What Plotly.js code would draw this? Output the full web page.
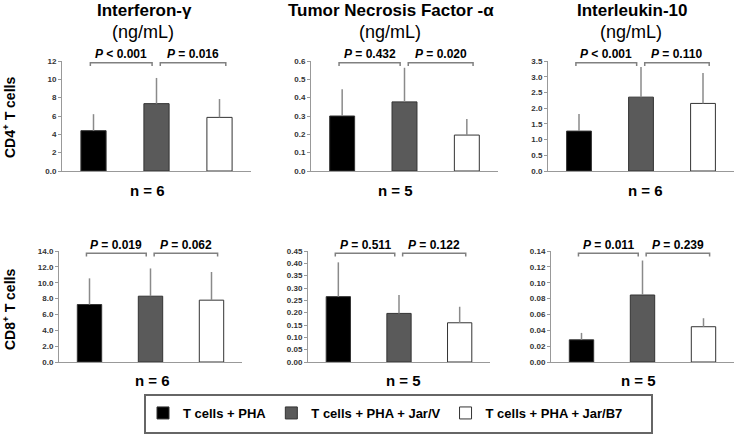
<!DOCTYPE html>
<html>
<head>
<meta charset="utf-8">
<script src="https://cdn.plot.ly/plotly-3.0.1.min.js"></script>
<style>
  html, body { margin: 0; padding: 0; background: #fff; }
  #chart { width: 735px; height: 434px; }
</style>
</head>
<body>
<div id="chart"></div>
<script>
// ---- data ----
const groups = ['T cells + PHA', 'T cells + PHA + Jar/V', 'T cells + PHA + Jar/B7'];
const cytokines = ['Interferon-γ', 'Tumor Necrosis Factor -α', 'Interleukin-10'];
const cellTypes = ['CD4<sup>+</sup> T cells', 'CD8<sup>+</sup> T cells'];

// panel order: CD4 (IFN, TNF, IL-10), then CD8 (IFN, TNF, IL-10)
const means = [
  [4.4, 7.35, 5.85],
  [0.30, 0.377, 0.196],
  [1.27, 2.35, 2.15],
  [7.25, 8.3, 7.8],
  [0.265, 0.197, 0.159],
  [0.028, 0.0845, 0.0445]
];
const sds = [
  [1.8, 2.8, 2.0],
  [0.146, 0.186, 0.088],
  [0.54, 0.96, 0.97],
  [3.3, 3.5, 3.55],
  [0.139, 0.075, 0.065],
  [0.0087, 0.0435, 0.0107]
];
const pValues = [
  ['P < 0.001', 'P = 0.016'],
  ['P = 0.432', 'P = 0.020'],
  ['P < 0.001', 'P = 0.110'],
  ['P = 0.019', 'P = 0.062'],
  ['P = 0.511', 'P = 0.122'],
  ['P = 0.011', 'P = 0.239']
];
const nValues = [6, 5, 6, 6, 5, 5];
const tickLabels = [
  ['0.0', '2', '4', '6', '8', '10', '12'],
  ['0.0', '0.1', '0.2', '0.3', '0.4', '0.5', '0.6'],
  ['0.0', '0.5', '1.0', '1.5', '2.0', '2.5', '3.0', '3.5'],
  ['0.0', '2.0', '4.0', '6.0', '8.0', '10.0', '12.0', '14.0'],
  ['0.00', '0.05', '0.10', '0.15', '0.20', '0.25', '0.30', '0.35', '0.40', '0.45'],
  ['0.00', '0.02', '0.04', '0.06', '0.08', '0.10', '0.12', '0.14']
];

// ---- geometry (pixels in a 735x434 page) ----
const W = 735, H = 434;
const px = x => x / W;
const py = y => 1 - y / H;
const xDom = [[62, 251], [311, 498], [548, 734], [59, 242], [308, 490], [551, 734]];
const yDom = [[61, 171], [251, 362]];
const colTitleX = [144, 391, 632];
const nLabelX = [147, 395, 645, 152, 403, 638];
const nLabelY = [191, 380];
const pLabelY = [54, 245];
const barColors = ['#000000', '#5a5a5a', '#ffffff'];
const brackets = [[-0.05, 0.93], [1.06, 2.1]];

const fam = 'Arial, Liberation Sans, sans-serif';
const traces = [];
const layout = {
  width: W, height: H,
  margin: { l: 0, r: 0, t: 0, b: 0 },
  paper_bgcolor: '#fff', plot_bgcolor: '#fff',
  barmode: 'overlay',
  showlegend: true,
  legend: {
    orientation: 'h', x: px(143), y: py(398), xanchor: 'left', yanchor: 'top',
    font: { family: fam, size: 13, weight: 'bold', color: '#000' },
    bgcolor: 'rgba(0,0,0,0)', borderwidth: 0, traceorder: 'normal'
  },
  shapes: [],
  annotations: []
};

function label(x, y, text, size, extra) {
  return Object.assign({
    xref: 'paper', yref: 'paper', x: px(x), y: py(y),
    xanchor: 'center', yanchor: 'middle',
    text: text, showarrow: false,
    font: { family: fam, size: size, color: '#000' }
  }, extra || {});
}

means.forEach((vals, p) => {
  const s = p === 0 ? '' : String(p + 1);
  const row = p < 3 ? 0 : 1;
  groups.forEach((g, i) => {
    traces.push({
      type: 'bar',
      name: g,
      x: [i], y: [vals[i]],
      width: 0.4,
      xaxis: 'x' + s, yaxis: 'y' + s,
      legendgroup: g,
      showlegend: p === 0,
      marker: { color: barColors[i], line: { color: '#333', width: 1 } },
      error_y: {
        type: 'data', symmetric: false, array: [sds[p][i]], arrayminus: [0],
        color: '#8a8a8a', thickness: 1.5, width: 0
      },
      hoverinfo: 'skip'
    });
  });

  const ticks = tickLabels[p];
  layout['xaxis' + s] = {
    domain: [px(xDom[p][0]), px(xDom[p][1])],
    anchor: 'y' + s, range: [-0.5, 2.5],
    showticklabels: false, showgrid: false, zeroline: false,
    showline: true, linecolor: '#999', linewidth: 1, ticks: '', fixedrange: true
  };
  layout['yaxis' + s] = {
    domain: [py(yDom[row][1]), py(yDom[row][0])],
    anchor: 'x' + s,
    range: [0, parseFloat(ticks[ticks.length - 1])],
    tickvals: ticks.map(Number), ticktext: ticks,
    tickfont: { family: fam, size: 8, weight: 'bold', color: '#333' },
    showgrid: false, zeroline: false,
    showline: true, linecolor: '#999', linewidth: 1,
    ticks: 'outside', ticklen: 3, tickcolor: '#999', fixedrange: true
  };

  // significance brackets and P values
  const yTop = row === 0 ? 0.985 : 0.98;
  const yEnd = yTop - 0.03;
  const pY = (yDom[row][1] - pLabelY[row]) / (yDom[row][1] - yDom[row][0]);
  brackets.forEach((b, k) => {
    layout.shapes.push({
      type: 'path', xref: 'x' + s, yref: 'y' + s + ' domain',
      path: `M ${b[0]},${yEnd} L ${b[0]},${yTop} L ${b[1]},${yTop} L ${b[1]},${yEnd}`,
      line: { color: '#808080', width: 1.5 }
    });
    const txt = pValues[p][k].replace(/^P/, '<i>P</i>');
    layout.annotations.push({
      xref: 'x' + s, yref: 'y' + s + ' domain',
      x: (b[0] + b[1]) / 2, y: pY, xanchor: 'center', yanchor: 'middle',
      text: '<b>' + txt + '</b>', showarrow: false,
      font: { family: fam, size: 12, color: '#000' }
    });
  });

  // n labels
  layout.annotations.push(label(nLabelX[p], nLabelY[row], '<b>n = ' + nValues[p] + '</b>', 15));
});

// column titles
cytokines.forEach((c, i) => {
  layout.annotations.push(label(colTitleX[i], 11, '<b>' + c + '</b>', 17));
  layout.annotations.push(label(colTitleX[i] - 1, 32, '(ng/mL)', 18));
});

// row labels
cellTypes.forEach((c, r) => {
  layout.annotations.push(label(9, r === 0 ? 118 : 310, '<b>' + c + '</b>', 14, { textangle: -90 }));
});

// legend frame
layout.shapes.push({
  type: 'rect', xref: 'paper', yref: 'paper',
  x0: px(145), x1: px(652), y0: py(433), y1: py(395),
  line: { color: '#666', width: 2 }, fillcolor: 'rgba(0,0,0,0)'
});

Plotly.newPlot('chart', traces, layout, { displayModeBar: false, staticPlot: true });
</script>
</body>
</html>
